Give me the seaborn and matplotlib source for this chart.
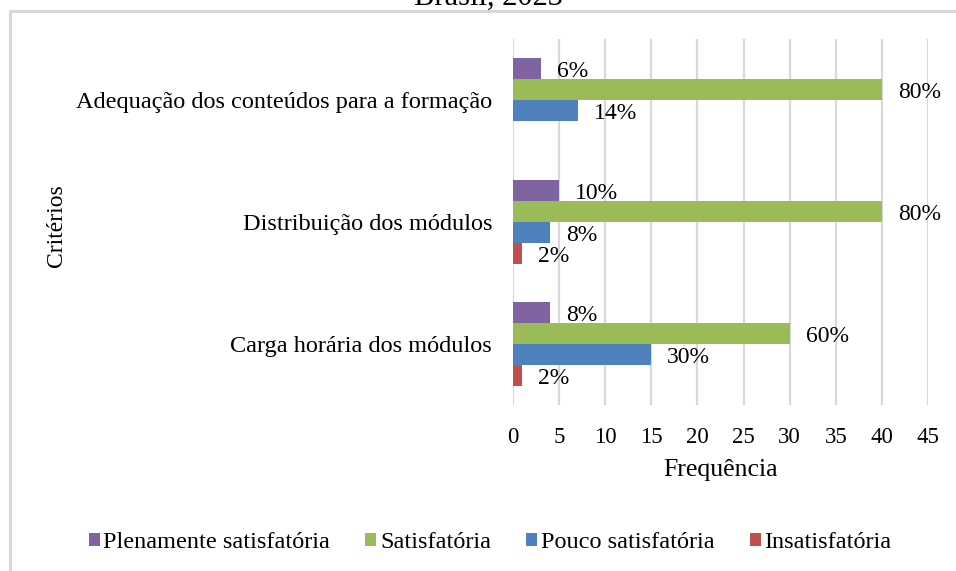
import pandas as pd
import matplotlib.pyplot as plt
import seaborn as sns
from matplotlib.patches import Patch
from matplotlib.lines import Line2D

# data
criterios = ['Adequação dos conteúdos para a formação',
             'Distribuição dos módulos',
             'Carga horária dos módulos']
niveis = ['Plenamente satisfatória', 'Satisfatória', 'Pouco satisfatória', 'Insatisfatória']
plenamente = [3, 5, 4]
satisfatoria = [40, 40, 30]
pouco = [7, 4, 15]
insatisfatoria = [0, 1, 1]
cores = ['#8064A2', '#9BBB59', '#4F81BD', '#C0504D']
x_ticks = [0, 5, 10, 15, 20, 25, 30, 35, 40, 45]

series = [plenamente, satisfatoria, pouco, insatisfatoria]
rows = []
for nivel, vals in zip(niveis, series):
    for c, v in zip(criterios, vals):
        rows.append({'Critério': c, 'Nível': nivel, 'Frequência': v})
df = pd.DataFrame(rows)
totais = [sum(s[i] for s in series) for i in range(len(criterios))]

sns.set_theme(style='white')
plt.rcParams['font.family'] = ['Liberation Serif', 'DejaVu Serif']
plt.rcParams['text.color'] = 'black'

fig = plt.figure(figsize=(9.56, 5.71), dpi=100)
ax = fig.add_axes([513 / 956, 1 - 405 / 571, 415 / 956, 366 / 571])

sns.barplot(data=df, y='Critério', x='Frequência', hue='Nível',
            order=criterios, hue_order=niveis, palette=cores,
            orient='h', width=0.69, linewidth=0, saturation=1,
            errorbar=None, ax=ax)
ax.legend_.remove()

# data labels as percentages
for cont, vals in zip(ax.containers, series):
    labs = ['' if v == 0 else f'{v / t * 100:.0f}%' for v, t in zip(vals, totais)]
    texts = ax.bar_label(cont, labels=labs, padding=11.5, fontsize=17, color='black')
    for t in texts:
        x0, y0 = t.xyann
        t.xyann = (x0, y0 - 2)

ax.set_xlim(0, 45)
ax.set_xticks(x_ticks)
ax.grid(axis='x', color='#d9d9d9', linewidth=1.6)
ax.grid(axis='y', visible=False)
ax.set_axisbelow(True)
for s in ax.spines.values():
    s.set_visible(False)
ax.tick_params(axis='x', length=0, pad=16, labelsize=16.5, colors='black')
ax.tick_params(axis='y', length=0, pad=15, labelsize=17.5, colors='black')

ax.set_xlabel('Frequência', fontsize=18.5, color='black')
ax.xaxis.set_label_coords(0.5, -0.178)
ax.xaxis.label.set_va('center')
ax.set_ylabel('Critérios', fontsize=17, color='black')
ax.yaxis.set_label_coords((57 - 513) / 415, 0.49)
ax.yaxis.label.set_va('center')

handles = [Patch(facecolor=c, edgecolor='none') for c in cores]
fig.legend(handles, niveis, loc='center', bbox_to_anchor=(490 / 956, 1 - 543 / 571),
           ncol=4, frameon=False, fontsize=17.5, handlelength=0.45, handleheight=0.45,
           handletextpad=0.15, columnspacing=1.45, labelcolor='black')

# partial title cut at the top of the picture
fig.text(488 / 956, 1 - 5 / 571, 'Brasil, 2023', ha='center', va='baseline', fontsize=22)

# light frame of the chart area
fig.add_artist(Line2D([9.5 / 956, 9.5 / 956], [0, 1 - 11 / 571], color='#d9d9d9', linewidth=2.2))
fig.add_artist(Line2D([9.5 / 956, 1], [1 - 11 / 571, 1 - 11 / 571], color='#d9d9d9', linewidth=2.2))

fig.savefig('out.png', dpi=100)
